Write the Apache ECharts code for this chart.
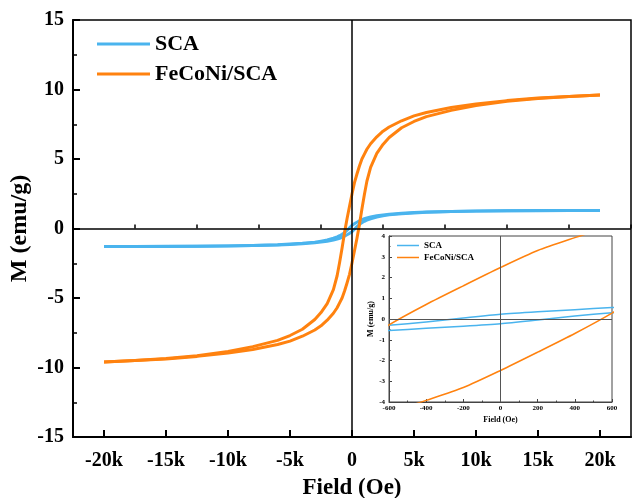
<!DOCTYPE html>
<html>
<head>
<meta charset="utf-8">
<script src="https://cdn.jsdelivr.net/npm/echarts@6/dist/echarts.min.js"></script>
<style>
  html, body { margin: 0; padding: 0; background: #fff; }
  #chart { width: 632px; height: 498px; }
</style>
</head>
<body>
<div id="chart"></div>
<script>
// field grid (Oe), shared by every branch
var fieldOe = [-20000, -17500, -15000, -12500, -10000, -8000, -6000, -5000, -4000, -3000, -2500, -2000, -1500, -1200, -1000, -800, -600, -400, -200, 0,
  200, 400, 600, 800, 1000, 1200, 1500, 2000, 2500, 3000, 4000, 5000, 6000, 8000, 10000, 12500, 15000, 17500, 20000];

// FeCoNi/SCA, branch coming down from +20k and branch going up from -20k
var fecoDown = [-9.6, -9.5, -9.35, -9.15, -8.85, -8.5, -8.05, -7.7, -7.25, -6.55, -6.05, -5.4, -4.4, -3.4, -2.45, -1.4, -0.28, 0.7, 1.6, 2.48,
  3.3, 3.92, 4.5, 5.0, 5.35, 5.7, 6.1, 6.6, 7.0, 7.3, 7.75, 8.1, 8.35, 8.7, 8.95, 9.2, 9.38, 9.5, 9.6];
var fecoUp = [-9.6, -9.5, -9.38, -9.2, -8.95, -8.7, -8.35, -8.1, -7.75, -7.3, -7.0, -6.6, -6.1, -5.7, -5.35, -5.0, -4.5, -3.92, -3.3, -2.48,
  -1.6, -0.7, 0.28, 1.4, 2.45, 3.4, 4.4, 5.4, 6.05, 6.55, 7.25, 7.7, 8.05, 8.5, 8.85, 9.15, 9.35, 9.5, 9.6];

// SCA
var scaDown = [-1.3, -1.29, -1.28, -1.27, -1.25, -1.22, -1.17, -1.12, -1.06, -0.98, -0.91, -0.83, -0.7, -0.6, -0.52, -0.42, -0.3, -0.14, 0.05, 0.23,
  0.35, 0.45, 0.55, 0.63, 0.7, 0.76, 0.83, 0.92, 0.98, 1.02, 1.1, 1.15, 1.19, 1.23, 1.26, 1.28, 1.29, 1.3, 1.3];
var scaUp = [-1.3, -1.3, -1.29, -1.28, -1.26, -1.23, -1.19, -1.15, -1.1, -1.02, -0.98, -0.92, -0.83, -0.76, -0.7, -0.63, -0.55, -0.45, -0.35, -0.23,
  -0.05, 0.14, 0.3, 0.42, 0.52, 0.6, 0.7, 0.83, 0.91, 0.98, 1.06, 1.12, 1.17, 1.22, 1.25, 1.27, 1.28, 1.29, 1.3];

var majorX = [-20000, -15000, -10000, -5000, 0, 5000, 10000, 15000, 20000];
var minorX = [-22500, -17500, -12500, -7500, -2500, 2500, 7500, 12500, 17500, 22500];

var blue = '#4ab4ee';
var orange = '#ff820f';
var serif = 'Liberation Serif';

function pairs(ys) {
  var out = [];
  for (var i = 0; i < fieldOe.length; i++) {
    out.push([fieldOe[i], ys[i]]);
  }
  return out;
}

function branch(name, ys, color, width, gi) {
  return {
    name: name,
    type: 'line',
    xAxisIndex: gi === 0 ? 0 : 2,
    yAxisIndex: gi,
    data: pairs(ys),
    showSymbol: false,
    symbol: 'none',
    smooth: gi === 0 ? false : 0.25,
    clip: true,
    lineStyle: { color: color, width: width, join: 'round' },
    itemStyle: { color: color },
    z: 3
  };
}

function zeroLines(color, width) {
  return {
    silent: true,
    symbol: 'none',
    label: { show: false },
    lineStyle: { color: color, width: width, type: 'solid' },
    data: [{ xAxis: 0 }, { yAxis: 0 }]
  };
}

var chart = echarts.init(document.getElementById('chart'));

var series = [
  branch('SCA', scaDown, blue, 3, 0),
  branch('SCA', scaUp, blue, 3, 0),
  branch('FeCoNi/SCA', fecoDown, orange, 3, 0),
  branch('FeCoNi/SCA', fecoUp, orange, 3, 0),
  branch('SCA', scaDown, blue, 1.5, 1),
  branch('SCA', scaUp, blue, 1.5, 1),
  branch('FeCoNi/SCA', fecoDown, orange, 1.5, 1),
  branch('FeCoNi/SCA', fecoUp, orange, 1.5, 1)
];
series[0].markLine = zeroLines('#000', 1.5);
series[4].markLine = zeroLines('#555', 1);

var option = {
  animation: false,
  backgroundColor: '#fff',
  legend: [{
    orient: 'vertical',
    left: 92,
    top: 28,
    icon: 'rect',
    itemWidth: 53,
    itemHeight: 3,
    itemGap: 8,
    textStyle: { fontFamily: serif, fontWeight: 'bold', fontSize: 22, color: '#000' },
    data: ['SCA', 'FeCoNi/SCA']
  }, {
    orient: 'vertical',
    left: 392,
    top: 236,
    icon: 'rect',
    itemWidth: 22,
    itemHeight: 1.5,
    itemGap: 3,
    textStyle: { fontFamily: serif, fontWeight: 'bold', fontSize: 9, color: '#000' },
    data: ['SCA', 'FeCoNi/SCA']
  }],
  grid: [{
    left: 73, right: 1, top: 20, bottom: 61,
    outerBoundsMode: 'none',
    show: true, borderColor: '#000', borderWidth: 1.5, backgroundColor: 'transparent'
  }, {
    left: 389, right: 20, top: 236, bottom: 96,
    outerBoundsMode: 'none',
    show: true, borderColor: '#444', borderWidth: 1, backgroundColor: '#fff'
  }],
  xAxis: [{
    type: 'value', gridIndex: 0, position: 'bottom',
    min: -22500, max: 22500,
    name: 'Field (Oe)', nameLocation: 'middle', nameGap: 40,
    nameTextStyle: { fontFamily: serif, fontWeight: 'bold', fontSize: 23, color: '#000' },
    axisLine: { show: true, onZero: false, lineStyle: { color: '#000', width: 2 } },
    axisTick: { show: true, inside: true, length: 7, customValues: majorX, lineStyle: { color: '#000', width: 2 } },
    axisLabel: {
      customValues: majorX, margin: 14,
      fontFamily: serif, fontWeight: 'bold', fontSize: 20, color: '#000',
      formatter: function (v) { return v === 0 ? '0' : (v / 1000) + 'k'; }
    },
    splitLine: { show: false }
  }, {
    type: 'value', gridIndex: 0, position: 'bottom',
    min: -22500, max: 22500,
    axisLine: { show: false },
    axisTick: { show: true, inside: true, length: 4, customValues: minorX, lineStyle: { color: '#000', width: 1.5 } },
    axisLabel: { show: false },
    splitLine: { show: false }
  }, {
    type: 'value', gridIndex: 1, position: 'bottom',
    min: -600, max: 600, interval: 200,
    name: 'Field (Oe)', nameLocation: 'middle', nameGap: 14,
    nameTextStyle: { fontFamily: serif, fontWeight: 'bold', fontSize: 8, color: '#000' },
    axisLine: { show: true, onZero: false, lineStyle: { color: '#444', width: 1 } },
    axisTick: { show: true, inside: true, length: 3, lineStyle: { color: '#444' } },
    minorTick: { show: true, splitNumber: 2, length: 1.5, lineStyle: { color: '#444' } },
    axisLabel: { margin: 3, fontFamily: serif, fontWeight: 'bold', fontSize: 7, color: '#000' },
    splitLine: { show: false }
  }],
  yAxis: [{
    type: 'value', gridIndex: 0,
    min: -15, max: 15, interval: 5,
    name: 'M (emu/g)', nameLocation: 'middle', nameGap: 41, nameRotate: 90,
    nameMoveOverlap: false,
    nameTextStyle: { fontFamily: serif, fontWeight: 'bold', fontSize: 24, color: '#000' },
    axisLine: { show: true, onZero: false, lineStyle: { color: '#000', width: 2 } },
    axisTick: { show: true, inside: true, length: 7, lineStyle: { color: '#000', width: 2 } },
    minorTick: { show: true, splitNumber: 2, length: 4, lineStyle: { color: '#000', width: 1.5 } },
    axisLabel: { margin: 9, fontFamily: serif, fontWeight: 'bold', fontSize: 20, color: '#000' },
    splitLine: { show: false }
  }, {
    type: 'value', gridIndex: 1,
    min: -4, max: 4, interval: 1,
    name: 'M (emu/g)', nameLocation: 'middle', nameGap: 13, nameRotate: 90,
    nameTextStyle: { fontFamily: serif, fontWeight: 'bold', fontSize: 8, color: '#000' },
    axisLine: { show: true, onZero: false, lineStyle: { color: '#444', width: 1 } },
    axisTick: { show: true, inside: true, length: 3, lineStyle: { color: '#444' } },
    minorTick: { show: true, splitNumber: 2, length: 1.5, lineStyle: { color: '#444' } },
    axisLabel: { margin: 4, fontFamily: serif, fontWeight: 'bold', fontSize: 7, color: '#000' },
    splitLine: { show: false }
  }],
  series: series
};

chart.setOption(option);
</script>
</body>
</html>
